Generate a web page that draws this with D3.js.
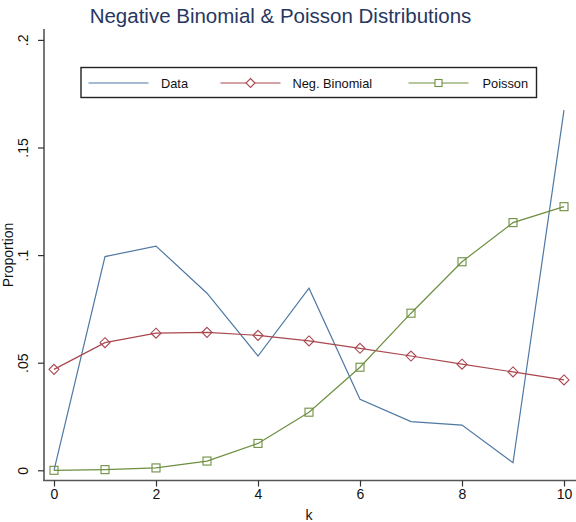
<!DOCTYPE html>
<html>
<head>
<meta charset="utf-8">
<script src="https://cdn.jsdelivr.net/npm/d3@7"></script>
<style>
html,body{margin:0;padding:0;background:#fff;}
svg{display:block;font-family:"Liberation Sans",Arial,Helvetica,sans-serif;}
</style>
</head>
<body>
<svg id="chart" width="576" height="522"></svg>
<script>
const kValues = [0,1,2,3,4,5,6,7,8,9,10];
const dataValues = [0.0, 0.0993, 0.1042, 0.0823, 0.0531, 0.0846, 0.0330, 0.0226, 0.0210, 0.0035, 0.1674];
const negBinValues = [0.0469, 0.0593, 0.0637, 0.0641, 0.0627, 0.0601, 0.0567, 0.0531, 0.0493, 0.0457, 0.0420];
const poissonValues = [0.0000, 0.0003, 0.0011, 0.0043, 0.0125, 0.0270, 0.0479, 0.0730, 0.0969, 0.1151, 0.1225];
const xTicks = [0,2,4,6,8,10];
const yTicks = [0,0.05,0.1,0.15,0.2];
const yTickLabels = ["0",".05",".1",".15",".2"];
const seriesNames = ["Data","Neg. Binomial","Poisson"];

const colors = {data:"#4f79a3", nb:"#a9474f", po:"#6e8f40"};
const svg = d3.select("#chart");

const x = d3.scaleLinear().domain([0,10]).range([54,564]);
const y = d3.scaleLinear().domain([0,0.2]).range([470.3,39.9]);

// Title
svg.append("text").attr("x",280.5).attr("y",23).attr("text-anchor","middle")
  .attr("font-size",20.5).attr("fill","#273761")
  .text("Negative Binomial & Poisson Distributions");

// axes
const axisColor = "#555";
svg.append("line").attr("x1",44).attr("x2",44).attr("y1",29).attr("y2",481)
  .attr("stroke",axisColor).attr("stroke-width",1.6);
svg.append("line").attr("x1",43.2).attr("x2",576).attr("y1",480.5).attr("y2",480.5)
  .attr("stroke",axisColor).attr("stroke-width",1.6);

const yAxis = d3.axisLeft(y).tickValues(yTicks).tickSize(6).tickFormat((d,i)=>yTickLabels[i]);
const gy = svg.append("g").attr("transform","translate(44,0)").call(yAxis);
gy.select(".domain").remove();
gy.selectAll(".tick line").attr("stroke","#333").attr("stroke-width",1.2);
gy.selectAll(".tick text").attr("font-size",14).attr("fill","#111")
  .attr("font-family","'Liberation Sans',Arial,sans-serif")
  .attr("text-anchor","middle").attr("x",0).attr("dy",0)
  .attr("transform","translate(-16,0) rotate(-90)")
  .attr("dominant-baseline","auto");

const xAxis = d3.axisBottom(x).tickValues(xTicks).tickSize(6).tickFormat(d3.format("d"));
const gx = svg.append("g").attr("transform","translate(0,480.5)").call(xAxis);
gx.select(".domain").remove();
gx.selectAll(".tick line").attr("stroke","#333").attr("stroke-width",1.2);
gx.selectAll(".tick text").attr("font-size",14).attr("fill","#111")
  .attr("font-family","'Liberation Sans',Arial,sans-serif").attr("y",9).attr("dy","0.71em");

// axis titles
svg.append("text").attr("x",x(5)).attr("y",520).attr("text-anchor","middle")
  .attr("font-size",14).attr("fill","#111").text("k");
svg.append("text").attr("transform","translate(13,255) rotate(-90)").attr("text-anchor","middle")
  .attr("font-size",14).attr("fill","#111").text("Proportion");

// lines
const line = d3.line().x((d,i)=>x(kValues[i])).y(d=>y(d));
svg.append("path").datum(dataValues).attr("d",line).attr("fill","none")
  .attr("stroke",colors.data).attr("stroke-width",1.2);
svg.append("path").datum(negBinValues).attr("d",line).attr("fill","none")
  .attr("stroke",colors.nb).attr("stroke-width",1.2);
svg.append("path").datum(poissonValues).attr("d",line).attr("fill","none")
  .attr("stroke",colors.po).attr("stroke-width",1.2);

// markers
const diamond = (cx,cy,r)=>`M${cx},${cy-r}L${cx+r},${cy}L${cx},${cy+r}L${cx-r},${cy}Z`;
svg.append("g").selectAll("path").data(negBinValues).join("path")
  .attr("d",(d,i)=>diamond(x(kValues[i]),y(d),5))
  .attr("fill","none").attr("stroke",colors.nb).attr("stroke-width",1.1);
svg.append("g").selectAll("rect").data(poissonValues).join("rect")
  .attr("x",(d,i)=>x(kValues[i])-4).attr("y",d=>y(d)-4)
  .attr("width",8).attr("height",8)
  .attr("fill","none").attr("stroke",colors.po).attr("stroke-width",1.1);

// legend
const lg = svg.append("g");
lg.append("rect").attr("x",81).attr("y",67.5).attr("width",455.5).attr("height",30)
  .attr("fill","#fff").attr("stroke","#222").attr("stroke-width",1.4);
const ly = 83;
const legItems = [
  {name:seriesNames[0], x1:88.5, x2:148.5, tx:161, color:colors.data, m:null},
  {name:seriesNames[1], x1:220.5, x2:280.5, tx:292.5, color:colors.nb, m:"d"},
  {name:seriesNames[2], x1:408.5, x2:468.5, tx:482.5, color:colors.po, m:"s"}
];
legItems.forEach(it=>{
  lg.append("line").attr("x1",it.x1).attr("x2",it.x2).attr("y1",ly).attr("y2",ly)
    .attr("stroke",it.color).attr("stroke-width",1.2);
  const cx=(it.x1+it.x2)/2;
  if(it.m==="d") lg.append("path").attr("d",diamond(cx,ly,4.5)).attr("fill","#fff").attr("stroke",it.color).attr("stroke-width",1.1);
  if(it.m==="s") lg.append("rect").attr("x",cx-3.5).attr("y",ly-3.5).attr("width",7).attr("height",7).attr("fill","#fff").attr("stroke",it.color).attr("stroke-width",1.1);
  lg.append("text").attr("x",it.tx).attr("y",ly+4.5).attr("font-size",12.8).attr("fill","#111").text(it.name);
});
</script>
</body>
</html>
